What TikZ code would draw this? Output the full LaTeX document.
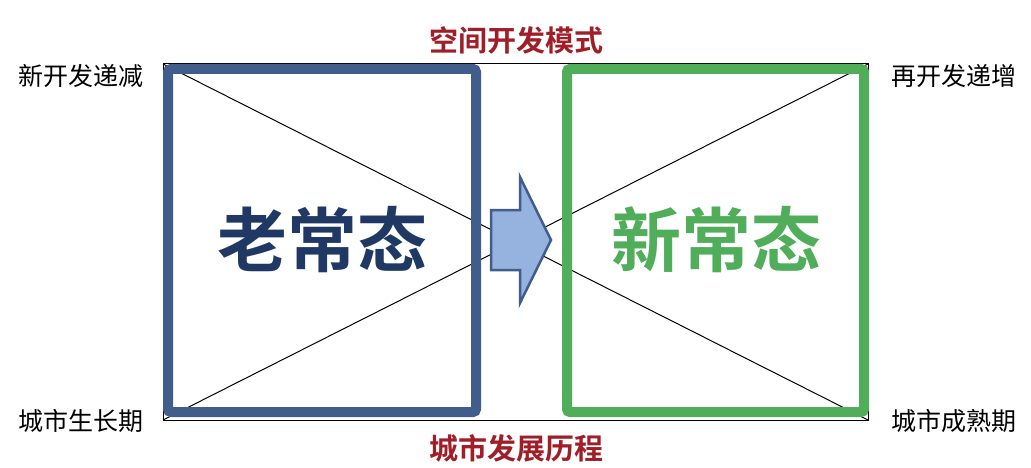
\documentclass[tikz,border=0pt]{standalone}
\usepackage{fontspec}
\setmainfont{Noto Sans CJK SC}[BoldFont={Noto Sans CJK SC Bold}]
\definecolor{oldblue}{RGB}{65,93,140}
\definecolor{oldtext}{RGB}{31,56,100}
\definecolor{newgreen}{RGB}{80,173,90}
\definecolor{titlered}{RGB}{160,30,40}
\definecolor{arrowfill}{RGB}{149,179,222}

\begin{document}
\begin{tikzpicture}[
  x=1pt, y=-1pt,
  corner/.style={
    font=\fontsize{25}{28}\selectfont,
    inner sep=0pt
  },
  title/.style={
    font=\fontsize{29}{32}\selectfont\bfseries,
    text=titlered,
    inner sep=0pt
  },
  state/.style={
    font=\fontsize{70}{76}\selectfont\bfseries,
    inner sep=0pt
  },
  framebox/.style={
    line width=10pt,
    rounded corners=3pt
  }
]
\useasboundingbox (0,0) rectangle (1031,468);

% Outer frame and cross
\draw[line width=1pt] (163,64) rectangle (868,420);
\draw[line width=1pt] (163,64) -- (868,420);
\draw[line width=1pt] (163,420) -- (868,64);

% Two states
\draw[framebox,oldblue] (168,69) rectangle (476,412);
\draw[framebox,newgreen] (567,69) rectangle (864,412);

% Arrow between
\draw[oldblue,line width=2.5pt,fill=arrowfill,line join=miter]
  (491,210) -- (520,210) -- (520,177) -- (551,240) -- (520,303) -- (520,270) -- (491,270) -- cycle;

% Texts
\node[state,text=oldtext] (old) at (322,240) {老常态};
\node[state,text=newgreen] (new) at (716,240) {新常态};
\node[title] (top) at (516,40) {空间开发模式};
\node[title] (bottom) at (516,448) {城市发展历程};
\node[corner] (tl) at (81,76) {新开发递减};
\node[corner] (bl) at (81,421) {城市生长期};
\node[corner] (tr) at (954,76) {再开发递增};
\node[corner] (br) at (954,421) {城市成熟期};
\end{tikzpicture}
\end{document}
